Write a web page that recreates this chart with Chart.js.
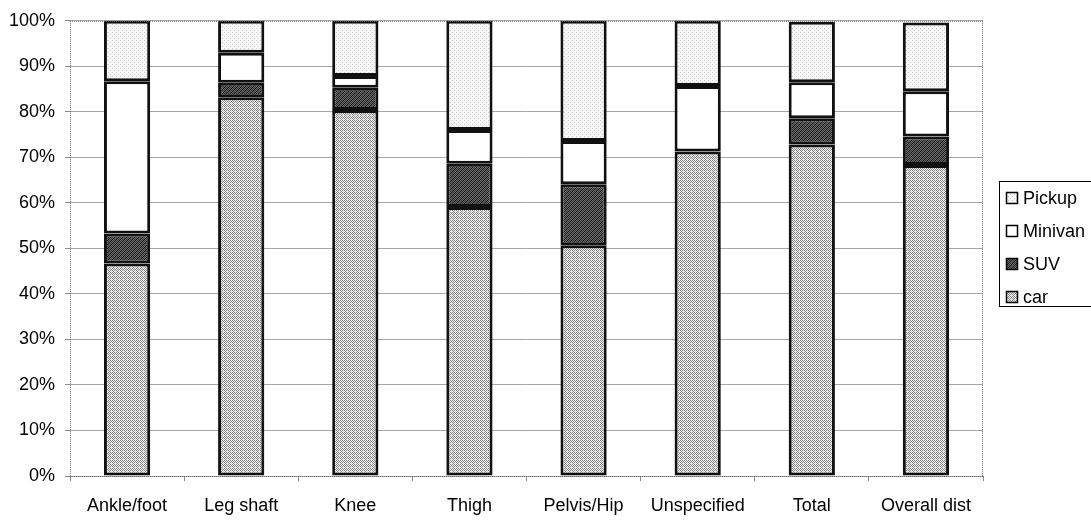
<!DOCTYPE html>
<html>
<head>
<meta charset="utf-8">
<script src="https://cdn.jsdelivr.net/npm/chart.js@4/dist/chart.umd.min.js"></script>
<style>
  html, body { margin: 0; padding: 0; background: #ffffff; }
  #wrap { width: 1091px; height: 520px; }
</style>
</head>
<body>
<div id="wrap"><canvas id="chart" width="1091" height="520"></canvas></div>
<script>
// Injury region by vehicle type (share of cases, %)
const categories = ['Ankle/foot', 'Leg shaft', 'Knee', 'Thigh', 'Pelvis/Hip', 'Unspecified', 'Total', 'Overall dist'];
const carValues     = [46.7, 83.2, 80.4, 59.1, 50.7, 71.3, 72.8, 68.3];
const suvValues     = [6.6, 3.2, 4.9, 9.5, 13.4, 0, 5.8, 6.3];
const minivanValues = [33.4, 6.6, 2.6, 7.4, 9.5, 14.4, 7.9, 9.9];
const pickupValues  = [13.3, 7.0, 12.1, 24.0, 26.4, 14.3, 13.3, 15.1];
const yTickStep = 10;

const FONT = '"Liberation Sans", Arial, Helvetica, sans-serif';
const ctx = document.getElementById('chart').getContext('2d');

// Small repeating fills for the stacked segments
function makePattern(size, paint) {
  const c = document.createElement('canvas');
  c.width = size; c.height = size;
  const g = c.getContext('2d');
  paint(g);
  return ctx.createPattern(c, 'repeat');
}
const carFill = makePattern(4, g => {
  g.fillStyle = '#f2f2f2'; g.fillRect(0, 0, 4, 4);
  g.fillStyle = '#858585';
  g.fillRect(0, 0, 1, 1); g.fillRect(2, 0, 1, 1);
  g.fillRect(1, 1, 1, 1); g.fillRect(3, 1, 1, 1);
  g.fillRect(0, 2, 1, 1); g.fillRect(2, 2, 1, 1);
  g.fillRect(1, 3, 1, 1);
  g.fillStyle = '#d0d0d0'; g.fillRect(3, 3, 1, 1);
});
const suvFill = makePattern(4, g => {
  g.fillStyle = '#6a6a6a'; g.fillRect(0, 0, 4, 4);
  g.fillStyle = '#111111';
  for (let i = 0; i < 4; i++) g.fillRect(i, 3 - i, 1, 1);
  g.fillStyle = '#363636';
  for (let i = 0; i < 4; i++) g.fillRect(i, (5 - i) % 4, 1, 1);
});
const minivanFill = '#ffffff';
const pickupFill = makePattern(4, g => {
  g.fillStyle = '#f6f6f6'; g.fillRect(0, 0, 4, 4);
  g.fillStyle = '#d0d0d0'; g.fillRect(0, 0, 1, 1); g.fillRect(2, 2, 1, 1);
});

const seriesStyle = {
  borderColor: '#111111',
  borderWidth: 3,
  borderSkipped: false,
  inflateAmount: 0,
  categoryPercentage: 1.0,
  barPercentage: 0.405
};

// Dotted plot frame and boxed legend
const framePlugin = {
  id: 'frame',
  afterDraw(chart) {
    const { ctx, chartArea: a } = chart;
    ctx.save();
    ctx.strokeStyle = '#6a6a6a';
    ctx.lineWidth = 1;
    ctx.setLineDash([1, 1]);
    ctx.beginPath();
    ctx.moveTo(a.left, a.top + 0.5);
    ctx.lineTo(a.right, a.top + 0.5);
    ctx.moveTo(a.right - 0.5, a.top);
    ctx.lineTo(a.right - 0.5, a.bottom);
    ctx.moveTo(a.left + 0.5, a.top);
    ctx.lineTo(a.left + 0.5, a.bottom);
    ctx.moveTo(a.left, a.bottom + 0.5);
    ctx.lineTo(a.right, a.bottom + 0.5);
    ctx.stroke();
    ctx.setLineDash([]);

    // legend
    const lx = 999.5, ly = 181.5, lw = 92, lh = 125;
    ctx.strokeStyle = '#000000';
    ctx.lineWidth = 1;
    ctx.strokeRect(lx, ly, lw, lh);
    const items = chart.data.datasets.slice().reverse();
    ctx.font = '18px ' + FONT;
    ctx.textBaseline = 'middle';
    ctx.textAlign = 'left';
    items.forEach((ds, i) => {
      const cy = 198 + i * 33;
      ctx.fillStyle = ds.backgroundColor;
      ctx.fillRect(1006, cy - 6, 12, 12);
      ctx.lineWidth = 1.5;
      ctx.strokeStyle = '#000000';
      ctx.strokeRect(1006.5, cy - 5.5, 11, 11);
      ctx.fillStyle = '#000000';
      ctx.fillText(ds.label, 1023, cy + 1);
    });
    ctx.restore();
  }
};

new Chart(ctx, {
  type: 'bar',
  data: {
    labels: categories,
    datasets: [
      Object.assign({ label: 'car', data: carValues, backgroundColor: carFill }, seriesStyle),
      Object.assign({ label: 'SUV', data: suvValues, backgroundColor: suvFill }, seriesStyle),
      Object.assign({ label: 'Minivan', data: minivanValues, backgroundColor: minivanFill }, seriesStyle),
      Object.assign({ label: 'Pickup', data: pickupValues, backgroundColor: pickupFill }, seriesStyle)
    ]
  },
  options: {
    responsive: false,
    animation: false,
    layout: { padding: { top: 19, right: 108, left: 0, bottom: 0 } },
    plugins: {
      legend: { display: false },
      tooltip: { enabled: false }
    },
    scales: {
      x: {
        stacked: true,
        grid: { display: true, drawOnChartArea: false, drawTicks: true, tickLength: 5, color: '#8a8a8a', offset: true },
        border: { display: false },
        ticks: { color: '#000000', font: { family: FONT, size: 18 }, padding: 14, maxRotation: 0, autoSkip: false },
        afterFit(scale) { scale.height = 44; }
      },
      y: {
        stacked: true,
        min: 0,
        max: 100,
        grid: { color: '#a6a6a6', lineWidth: 1, tickLength: 5, tickColor: '#8a8a8a' },
        border: { display: false },
        ticks: {
          stepSize: yTickStep,
          color: '#000000',
          font: { family: FONT, size: 18 },
          padding: 10,
          callback: v => v + '%'
        },
        afterFit(scale) { scale.width = 70; }
      }
    }
  },
  plugins: [framePlugin]
});
</script>
</body>
</html>
